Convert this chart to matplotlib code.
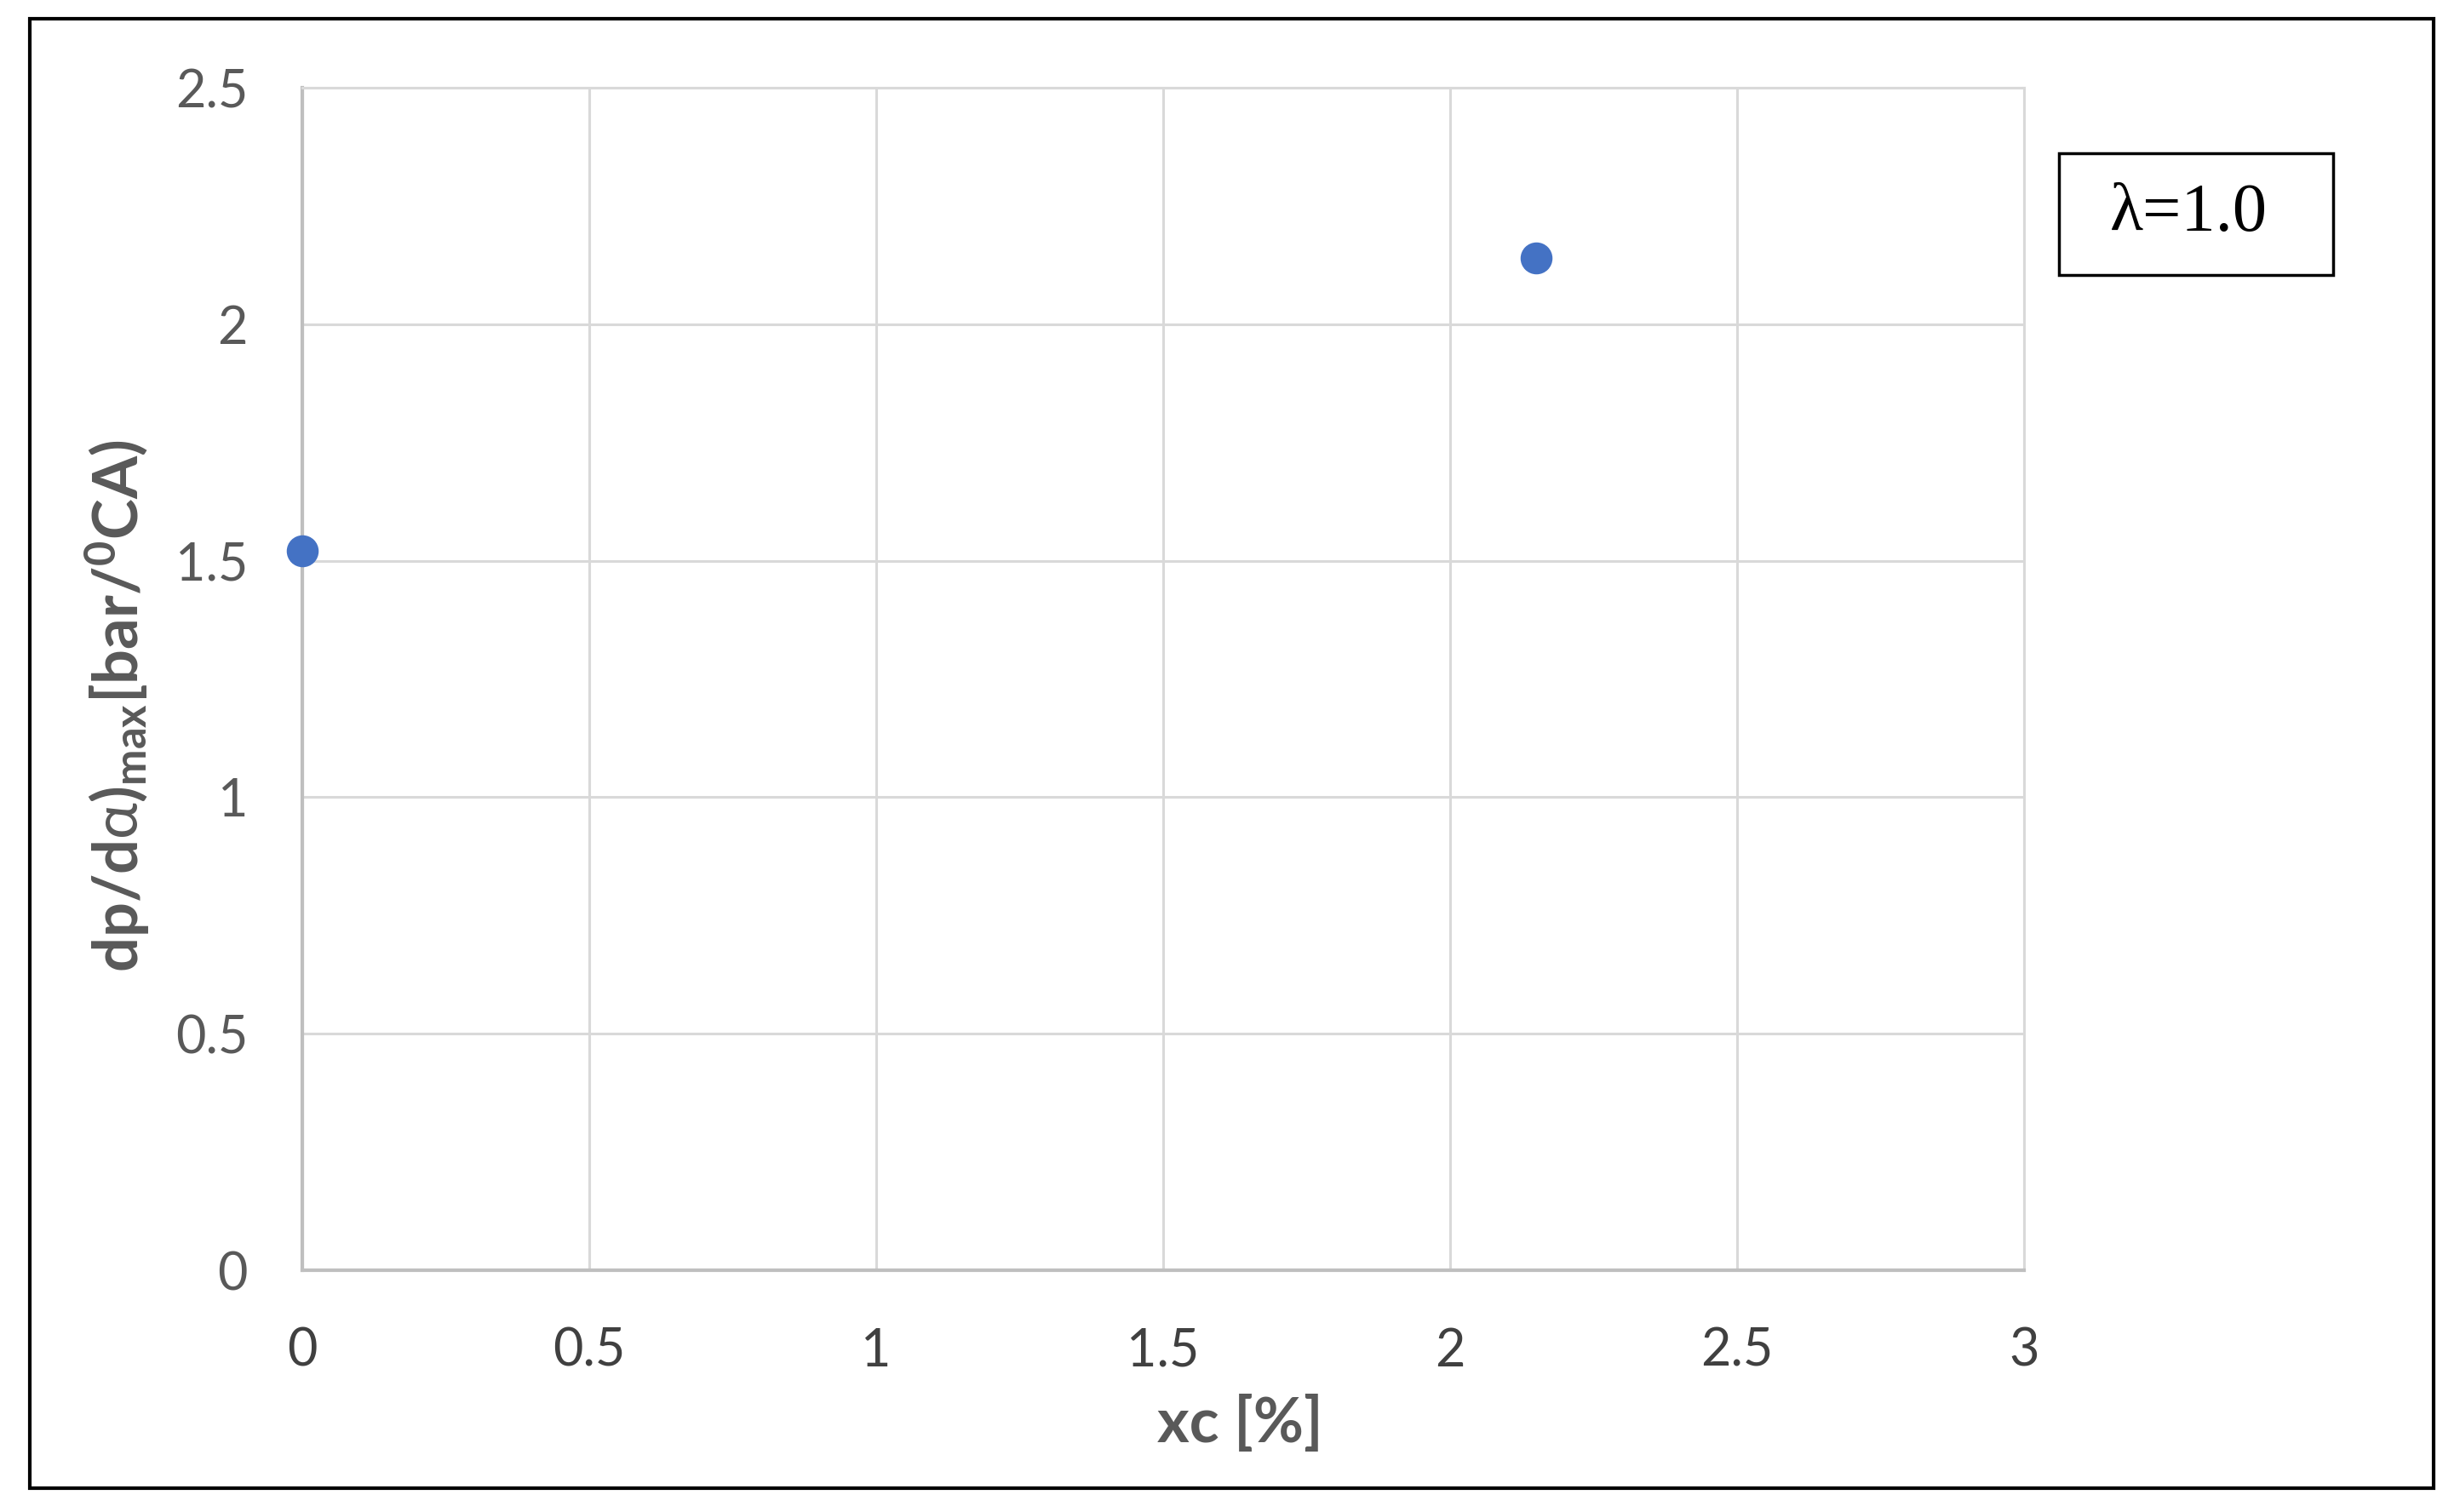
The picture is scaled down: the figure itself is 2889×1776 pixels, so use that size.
import matplotlib
matplotlib.use('Agg')
import matplotlib.pyplot as plt
from matplotlib.patches import Rectangle

# data
xc = [0.0, 2.15]
dpda_max = [1.52, 2.14]

x_ticks = [0, 0.5, 1, 1.5, 2, 2.5, 3]
y_ticks = [0, 0.5, 1, 1.5, 2, 2.5]
x_ticklabels = ['0', '0.5', '1', '1.5', '2', '2.5', '3']
y_ticklabels = ['0', '0.5', '1', '1.5', '2', '2.5']

plt.rcParams['font.family'] = ['Lato', 'DejaVu Sans']
plt.rcParams['mathtext.fontset'] = 'custom'
plt.rcParams['mathtext.rm'] = 'Lato'
plt.rcParams['mathtext.it'] = 'Lato'
plt.rcParams['mathtext.bf'] = 'Lato:bold'

W, H = 2889, 1776
fig = plt.figure(figsize=(W / 100, H / 100), dpi=100)
# axes box in pixels: left 355, right 2377, top 103, bottom 1492
ax = fig.add_axes([355 / W, 1 - 1492 / H, (2377 - 355) / W, (1492 - 103) / H])

ax.plot(xc, dpda_max, linestyle='none', marker='o', markersize=26,
        color='#4472C4', clip_on=False, zorder=5)

ax.set_xlim(0, 3)
ax.set_ylim(0, 2.5)
ax.set_xticks(x_ticks)
ax.set_xticklabels(x_ticklabels)
ax.set_yticks(y_ticks)
ax.set_yticklabels(y_ticklabels)

ax.grid(True, color='#d9d9d9', linewidth=2.2)
ax.set_axisbelow(True)
ax.tick_params(length=0, labelsize=44, colors='#595959')
ax.tick_params(axis='y', pad=46)
ax.tick_params(axis='x', pad=48, colors='#404040')

for side in ['top', 'right']:
    ax.spines[side].set_color('#d9d9d9')
    ax.spines[side].set_linewidth(2.2)
for side in ['left', 'bottom']:
    ax.spines[side].set_color('#bfbfbf')
    ax.spines[side].set_linewidth(3)

# axis titles
fig.text(137 / W, 1 - 829 / H,
         r'dp/d$\alpha$)$_{\mathregular{max}}$[bar/$^{\mathregular{0}}$CA)',
         rotation=90, ha='center', va='center', fontsize=52,
         fontweight='bold', color='#595959')
fig.text(1456 / W, 1 - 1673 / H, 'xc [%]', ha='center', va='center',
         fontsize=52, fontweight='bold', color='#595959')

# lambda box
fig.patches.append(Rectangle((2418 / W, 1 - 323 / H), 322 / W, 143 / H,
                             transform=fig.transFigure, fill=False,
                             edgecolor='black', linewidth=2.5))
fig.text(2570 / W, 1 - 252 / H, 'λ=1.0', ha='center', va='center',
         fontsize=58, family=['Liberation Serif', 'DejaVu Serif'], color='black')

# outer frame
fig.patches.append(Rectangle((35 / W, 1 - 1748 / H), (2858 - 35) / W, 1726 / H,
                             transform=fig.transFigure, fill=False,
                             edgecolor='black', linewidth=3))

fig.savefig('out.png', dpi=100, facecolor='white')
